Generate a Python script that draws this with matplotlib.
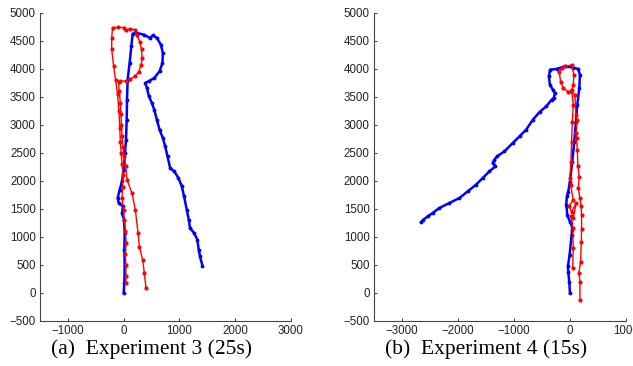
import numpy as np
import matplotlib
matplotlib.use('Agg')
import matplotlib.pyplot as plt

# experiment 3 (25s)
exp3_blue_x = [0, 12, 18, 12, 18, 6, -30, -12, -89, -107, -71, -30, 0, 24, 42, 54, 60, 71, 107, 137, 161,
               238, 357, 476, 524, 595, 667, 702, 696, 643, 548, 446, 387,
               417, 452, 506, 548, 595, 643, 702, 744, 786, 833, 905, 982, 1042, 1083, 1131, 1167, 1190,
               1262, 1321, 1345, 1369, 1411]
exp3_blue_y = [0, 179, 476, 774, 1071, 1310, 1429, 1548, 1607, 1696, 1845, 1994, 2202, 2500, 2738, 3095, 3452, 3810, 4107, 4405, 4631,
               4643, 4613, 4554, 4601, 4554, 4435, 4286, 4107, 3958, 3839, 3780, 3750,
               3661, 3512, 3393, 3274, 3095, 2917, 2768, 2619, 2440, 2232, 2173, 2054, 1905, 1726, 1488, 1310, 1161,
               1071, 952, 774, 655, 488]

exp3_red_x = [43, 40, 40, 30, 45, 30, 10, 0, -29, -20, -10, -30, -45, -60, -70, -85, -110, -145, -180, -215, -215, -200,
              -100, 0, 50, 120, 200, 240, 290, 320, 330, 315, 270, 200, 120, 40, -60, -90,
              -80, -60, -50, -40, -30, -10, 10, 35, 61, 150, 210, 258, 281, 341, 371, 401]
exp3_red_y = [180, 300, 500, 700, 900, 1100, 1300, 1480, 1700, 1900, 2100, 2300, 2500, 2700, 2950, 3250, 3550, 3800, 4050, 4350, 4550, 4740,
              4745, 4740, 4700, 4720, 4700, 4600, 4480, 4350, 4200, 4080, 3950, 3870, 3820, 3790, 3780, 3760,
              3600, 3400, 3200, 3000, 2800, 2600, 2450, 2260, 2017, 1780, 1482, 1065, 826, 589, 351, 83]

# experiment 4 (15s)
exp4_blue_x = [0, -12, -30, -36, -6, 30, 42, 24, 0, -48, -60, -66, -54, -30, 0, 42, 77, 107, 131, 167, 179, 149,
               60, -95, -238, -352, -376, -357, -304, -268, -292, -327, -423, -536, -662, -781, -900, -1020,
               -1169, -1300, -1348, -1378, -1330, -1437, -1556, -1676, -1825, -1974, -2153, -2332, -2451, -2540, -2630, -2660]
exp4_blue_y = [0, 201, 380, 476, 678, 1035, 1131, 1250, 1273, 1392, 1548, 1571, 1726, 1808, 1987, 2345, 2702, 3059, 3357, 3655, 3893, 4000,
               4024, 4048, 4000, 3988, 3869, 3714, 3631, 3566, 3476, 3452, 3333, 3238, 3095, 2917, 2798, 2679,
               2530, 2440, 2381, 2321, 2262, 2173, 2054, 1935, 1815, 1696, 1607, 1518, 1429, 1369, 1298, 1262]

exp4_red_x = [179, 179, 161, 190, 203, 208, 208, 200, 179, 149, 167, 143, 131, 119, 113, 125, 107, 89,
              24, -30, -119, -167, -191, -148, -95, 30, 71, 60, 30,
              60, 42, 30, 18, 0, 12, 60, -20, 30, 110, 60, 20, 48, 60, 48]
exp4_red_y = [-126, 201, 357, 558, 916, 1150, 1392, 1550, 1690, 1869, 2077, 2262, 2560, 2762, 2857, 3095, 3178, 3535,
              3601, 3595, 3655, 3773, 3952, 4012, 4048, 4071, 3893, 3714, 3625,
              3357, 3059, 2702, 2345, 2048, 1928, 1660, 1550, 1451, 1600, 1333, 1380, 1154, 797, 440]

plt.rcParams['font.family'] = ['Liberation Sans', 'DejaVu Sans']

fig = plt.figure(figsize=(6.33, 3.66), dpi=100)
ax1 = fig.add_axes([0.0632, 0.123, 0.3965, 0.8415])
ax2 = fig.add_axes([0.5908, 0.123, 0.398, 0.8415])

panels = [
    (ax1, exp3_blue_x, exp3_blue_y, exp3_red_x, exp3_red_y, (-1500, 3000), [-1000, 0, 1000, 2000, 3000]),
    (ax2, exp4_blue_x, exp4_blue_y, exp4_red_x, exp4_red_y, (-3500, 1000), [-3000, -2000, -1000, 0, 1000]),
]

for ax, bx, by, rx, ry, xl, xt in panels:
    ax.plot(bx, by, '-', color='#0000ff', lw=1.8, marker='.', ms=3.5)
    ax.plot(rx, ry, '-', color='#ff0000', lw=1.0, marker='.', ms=4)
    ax.set_xlim(xl)
    ax.set_ylim(-500, 5000)
    ax.set_xticks(xt)
    ax.set_yticks(np.arange(-500, 5001, 500))
    for s in ['top', 'right']:
        ax.spines[s].set_visible(False)
    for s in ['left', 'bottom']:
        ax.spines[s].set_color('#444444')
        ax.spines[s].set_linewidth(0.8)
    ax.tick_params(direction='in', length=2.5, width=0.6, labelsize=8.3, colors='#222222', pad=3)
    for lab in ax.get_xticklabels() + ax.get_yticklabels():
        lab.set_clip_on(False)

fig.text(0.239, 0.047, '(a)  Experiment 3 (25s)', ha='center', va='center',
         family='Liberation Serif', fontsize=15.5)
fig.text(0.768, 0.047, '(b)  Experiment 4 (15s)', ha='center', va='center',
         family='Liberation Serif', fontsize=15.5)

fig.savefig('out.png', dpi=100)
